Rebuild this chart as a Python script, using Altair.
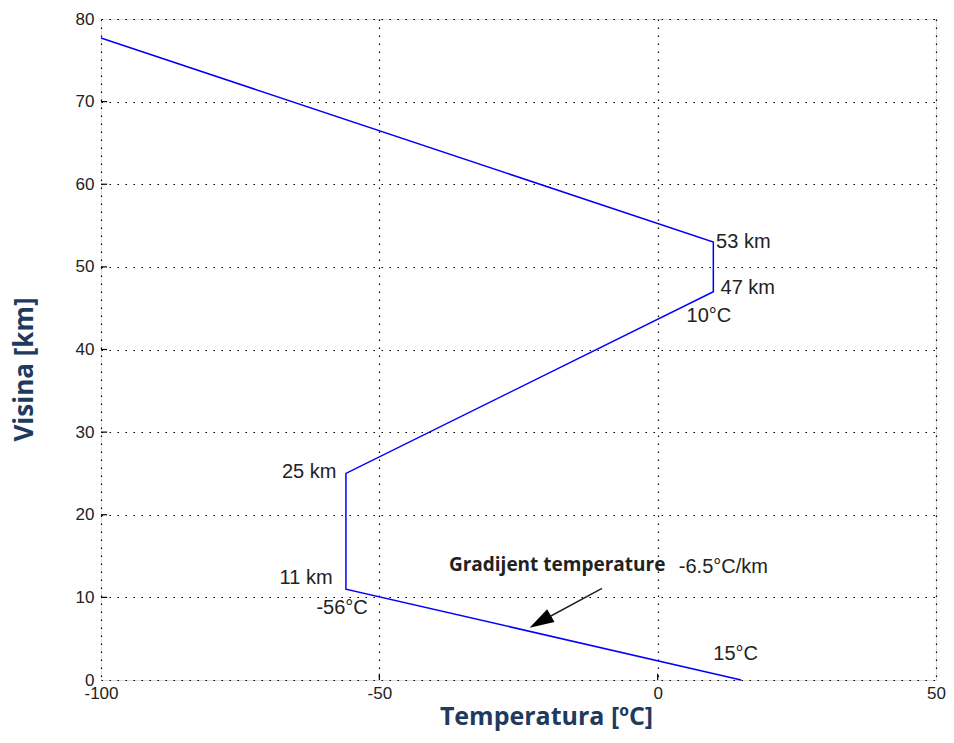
import altair as alt
import pandas as pd

# profile data
temps = [15, -56, -56, 10, 10, -100]
heights = [0, 11, 25, 47, 53, 77.7]

# annotations (left-aligned)
annL_text = ["53 km", "47 km", "10°C", "-56°C", "-6.5°C/km", "15°C"]
annL_x = [10.5, 11.3, 5.2, -61.3, 3.8, 10.0]
annL_y = [53.0, 47.5, 44.0, 8.7, 13.7, 3.1]
# annotations (right-aligned)
annR_text = ["25 km", "11 km"]
annR_x = [-57.7, -58.4]
annR_y = [25.2, 12.4]

grad_text = ["Gradijent temperature"]
grad_x = [-37.5]
grad_y = [13.9]

# arrow (tail -> head)
arrow_x = [-10.0, -21.1]
arrow_y = [11.1, 7.05]

x_ticks = [-100, -50, 0, 50]
y_ticks = [0, 10, 20, 30, 40, 50, 60, 70, 80]

W, H = 835, 661
xs = alt.Scale(domain=[-100, 50], nice=False, zero=False)
ys = alt.Scale(domain=[0, 80], nice=False, zero=False)

line_df = pd.DataFrame({"t": temps, "h": heights, "o": list(range(len(temps)))})
annL_df = pd.DataFrame({"text": annL_text, "x": annL_x, "y": annL_y})
annR_df = pd.DataFrame({"text": annR_text, "x": annR_x, "y": annR_y})
grad_df = pd.DataFrame({"text": grad_text, "x": grad_x, "y": grad_y})
arr_df = pd.DataFrame({"x": [arrow_x[0]], "y": [arrow_y[0]], "x2": [arrow_x[1]], "y2": [arrow_y[1]]})
head_df = pd.DataFrame({"x": [arrow_x[1]], "y": [arrow_y[1]]})

# inward tick marks (from tick value arrays)
xt_df = pd.DataFrame({"x": x_ticks[1:-1], "y": [0] * (len(x_ticks) - 2), "y2": [0.75] * (len(x_ticks) - 2)})
yt_df = pd.DataFrame({"y": y_ticks[1:-1], "x": [-100] * (len(y_ticks) - 2), "x2": [-98.9] * (len(y_ticks) - 2)})

label_font = "Liberation Sans"
title_color = "#1F3A5F"

main = alt.Chart(line_df).mark_line(color="#0000FF", strokeWidth=1.5).encode(
    x=alt.X("t:Q", scale=xs, axis=alt.Axis(
        orient="bottom", values=x_ticks, title="Temperatura [ºC]", labelExpr="'' + datum.value",
        grid=True, gridColor="black", gridDash=[1.5, 6.5], gridWidth=1.2, gridOpacity=1,
        ticks=False, labelPadding=5, labelFont=label_font, labelFontSize=17, labelColor="#222222",
        labelFlush=False, domain=False, titleFont="Open Sans", titleFontSize=25, titleFontWeight="bold",
        titleColor=title_color, titlePadding=3, titleX=445)),
    y=alt.Y("h:Q", scale=ys, axis=alt.Axis(
        orient="left", values=y_ticks, title="Visina [km]", labelExpr="'' + datum.value",
        grid=True, gridColor="black", gridDash=[1.5, 6.5], gridWidth=1.2, gridOpacity=1,
        ticks=False, labelPadding=7, labelFont=label_font, labelFontSize=17, labelColor="#222222",
        labelFlush=False, domain=False, titleFont="Open Sans", titleFontSize=26, titleFontWeight="bold",
        titleColor=title_color, titlePadding=38, titleY=350)),
    order="o:O",
)

xt = alt.Chart(xt_df).mark_rule(color="black", strokeWidth=1.2).encode(
    x=alt.X("x:Q", scale=xs), y=alt.Y("y:Q", scale=ys), y2="y2:Q")
yt = alt.Chart(yt_df).mark_rule(color="black", strokeWidth=1.2).encode(
    y=alt.Y("y:Q", scale=ys), x=alt.X("x:Q", scale=xs), x2="x2:Q")

annL = alt.Chart(annL_df).mark_text(font="Liberation Sans", fontSize=20, color="#222222",
                                    align="left", baseline="middle").encode(
    x=alt.X("x:Q", scale=xs), y=alt.Y("y:Q", scale=ys), text="text:N")
annR = alt.Chart(annR_df).mark_text(font="Liberation Sans", fontSize=20, color="#222222",
                                    align="right", baseline="middle").encode(
    x=alt.X("x:Q", scale=xs), y=alt.Y("y:Q", scale=ys), text="text:N")

grad = alt.Chart(grad_df).mark_text(font="Open Sans", fontSize=19, fontWeight="bold",
                                    color="#222222", align="left", baseline="middle").encode(
    x=alt.X("x:Q", scale=xs), y=alt.Y("y:Q", scale=ys), text="text:N")

arrow = alt.Chart(arr_df).mark_rule(color="#222222", strokeWidth=1.5).encode(
    x=alt.X("x:Q", scale=xs), y=alt.Y("y:Q", scale=ys), x2="x2:Q", y2="y2:Q")

head = alt.Chart(head_df).mark_point(shape="M0,-1L0.6,1L-0.6,1Z", filled=True, fill="black",
                                     color="black", opacity=1, size=600, angle=240).encode(
    x=alt.X("x:Q", scale=xs), y=alt.Y("y:Q", scale=ys))

chart = alt.layer(main, xt, yt, annL, annR, grad, arrow, head).properties(
    width=W, height=H,
    autosize=alt.AutoSizeParams(type="none"),
    padding={"left": 93, "top": 11, "right": 10, "bottom": 55},
).configure_view(stroke="black", strokeWidth=1.5).configure(background="white")

chart.save("out.html", embed_options={"renderer": "svg", "actions": False})
